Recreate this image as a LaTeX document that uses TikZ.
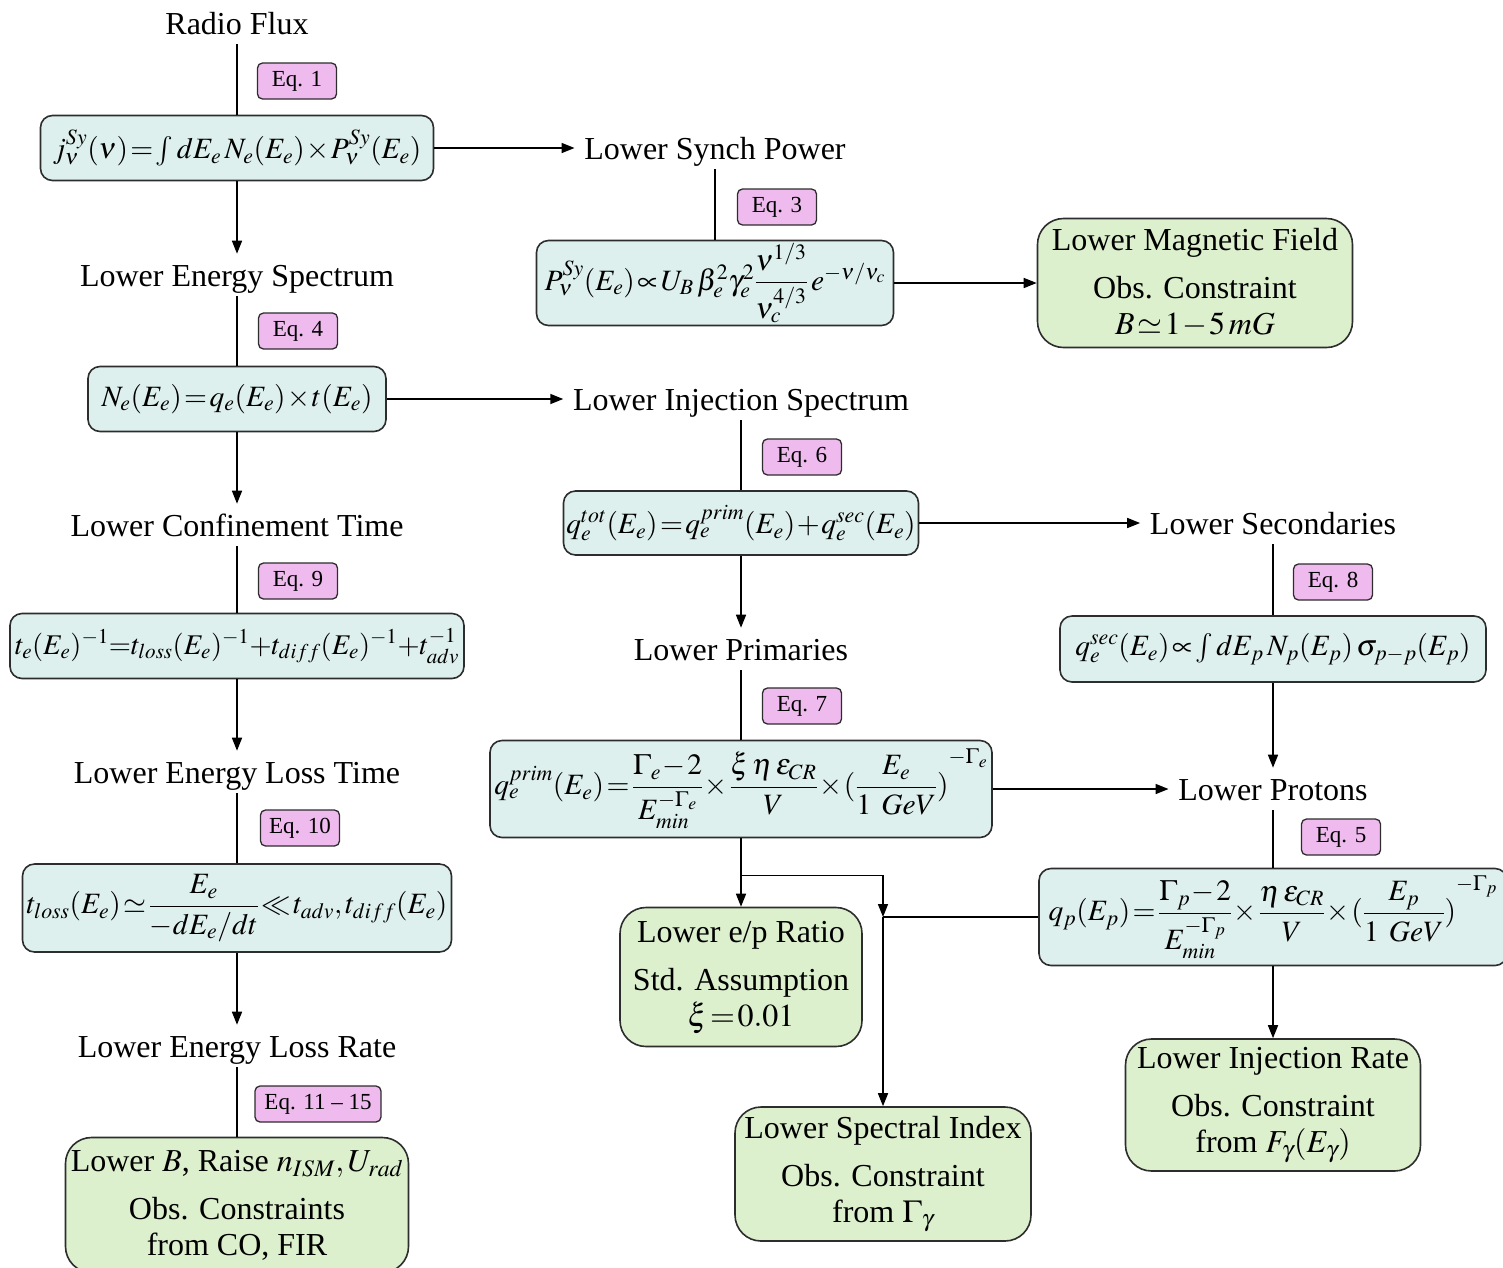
\documentclass[tikz,border=0pt]{standalone}
\usepackage{amsmath}
\usepackage{mathptmx}
\usepackage[no-math]{fontspec}
\setmainfont{Liberation Serif}
\usepackage{xcolor}
\usepackage{tikz}
\usetikzlibrary{arrows.meta, positioning}

\definecolor{eqcyan}{RGB}{221,240,237}
\definecolor{obsgreen}{RGB}{221,240,205}
\definecolor{tagpink}{RGB}{239,187,238}
\definecolor{rimgray}{RGB}{45,45,45}
\medmuskip=1mu plus 1mu
\thickmuskip=1.5mu plus 1mu

\begin{document}
\begin{tikzpicture}[x=1pt, y=-1pt, on grid, line width=1.6pt, >={Triangle[length=13pt,width=10pt]},
        font=\fontsize{32}{36}\selectfont,
        stage/.style={inner sep=9pt, text height=23pt, text depth=0pt},
        eqbox/.style={draw=rimgray, fill=eqcyan, rounded corners=12pt, inner sep=0pt, font=\fontsize{29.5}{34}\selectfont},
        obsbox/.style={draw=rimgray, fill=obsgreen, rounded corners=26pt, inner sep=0pt, align=center},
        eqtag/.style={draw=rimgray, fill=tagpink, rounded corners=5pt, inner sep=0pt, line width=1.3pt,
            minimum width=79pt, minimum height=36pt, font=\fontsize{23}{27}\selectfont}]
        \useasboundingbox (0,0) rectangle (1503,1267);

        \node[stage] (radio) at (237,23) {Radio Flux};
        \node[eqbox, minimum width=393pt, minimum height=65pt] (jsy) [below=125pt of radio]
            {$j_\nu^{Sy}(\nu)=\int dE_e\,N_e(E_e)\times P_\nu^{Sy}(E_e)$};
        \node[stage] (lspec) [below=127pt of jsy] {Lower Energy Spectrum};
        \node[eqbox, minimum width=298pt, minimum height=65pt] (ne) [below=124pt of lspec]
            {$N_e(E_e)=q_e(E_e)\times t(E_e)$};
        \node[stage] (lconf) [below=126pt of ne] {Lower Confinement Time};
        \node[eqbox, minimum width=454pt, minimum height=65pt, font=\fontsize{28.5}{34}\selectfont] (te) [below=121pt of lconf]
            {$t_e(E_e)^{-1}{=}t_{loss}(E_e)^{-1}{+}t_{diff}(E_e)^{-1}{+}t_{adv}^{-1}$};
        \node[stage] (lltime) [below=126pt of te] {Lower Energy Loss Time};
        \node[eqbox, minimum width=429pt, minimum height=88pt] (tloss) [below=136pt of lltime]
            {$t_{loss}(E_e)\simeq\dfrac{E_e}{-dE_e/dt}\ll t_{adv},t_{diff}(E_e)$};
        \node[stage] (llrate) [below=138pt of tloss] {Lower Energy Loss Rate};
        \node[obsbox, minimum width=343pt, minimum height=135pt] (lowerB) [below=159pt of llrate]
            {Lower $B$, Raise $n_{ISM},U_{rad}$\\[12pt] Obs. Constraints\\ from CO, FIR};

        \node[stage] (synch) [right=478pt of jsy] {Lower Synch Power};
        \node[eqbox, minimum width=357pt, minimum height=85pt] (psy) [below=135pt of synch]
            {$P_\nu^{Sy}(E_e)\propto U_B\,\beta_e^2\gamma_e^2\dfrac{\nu^{1/3}}{\nu_c^{4/3}}\,e^{-\nu/\nu_c}$};
        \node[obsbox, minimum width=315pt, minimum height=129pt] (bfield) [right=480pt of psy]
            {Lower Magnetic Field\\[12pt] Obs. Constraint\\ $B\simeq1-5\,mG$};

        \node[stage] (inj) [right=504pt of ne] {Lower Injection Spectrum};
        \node[eqbox, minimum width=355pt, minimum height=64pt] (qtot) [below=124pt of inj]
            {$q_e^{tot}(E_e)=q_e^{prim}(E_e)+q_e^{sec}(E_e)$};
        \node[stage] (lprim) [below=126pt of qtot] {Lower Primaries};
        \node[eqbox, minimum width=502pt, minimum height=97pt] (qprim) [below=140pt of lprim]
            {$q_e^{prim}(E_e)=\dfrac{\Gamma_e-2}{E_{min}^{-\Gamma_e}}\times\dfrac{\xi\,\eta\,\varepsilon_{CR}}{V}\times(\dfrac{E_e}{1\hspace{10pt}GeV}{\vphantom{\dfrac{E}{G}})}^{-\Gamma_e}$};
        \node[obsbox, minimum width=242pt, minimum height=139pt] (epr) [below=188pt of qprim]
            {Lower e/p Ratio\\[12pt] Std. Assumption\\ $\xi=0.01$};
        \node[obsbox, minimum width=296pt, minimum height=134pt] (specidx) [below right=385pt and 142pt of qprim]
            {Lower Spectral Index\\[12pt] Obs. Constraint\\ from $\Gamma_\gamma$};

        \node[stage] (lsec) [right=532pt of qtot] {Lower Secondaries};
        \node[eqbox, minimum width=426pt, minimum height=66pt] (qsec) [below=126pt of lsec]
            {$q_e^{sec}(E_e)\propto\int dE_p\,N_p(E_p)\,\sigma_{p-p}(E_p)$};
        \node[stage] (lprot) [right=532pt of qprim] {Lower Protons};
        \node[eqbox, minimum width=468pt, minimum height=97pt] (qp) [below=128pt of lprot]
            {$q_p(E_p)=\dfrac{\Gamma_p-2}{E_{min}^{-\Gamma_p}}\times\dfrac{\eta\,\varepsilon_{CR}}{V}\times(\dfrac{E_p}{1\hspace{10pt}GeV}{\vphantom{\dfrac{E}{G}})}^{-\Gamma_p}$};
        \node[obsbox, minimum width=295pt, minimum height=132pt] (injrate) [below=188pt of qp]
            {Lower Injection Rate\\[12pt] Obs. Constraint\\ from $F_\gamma(E_\gamma)$};

        \node[eqtag] (tag1) at (297,81) {Eq. 1};
        \node[eqtag] (tag3) at (777,207) {Eq. 3};
        \node[eqtag] (tag4) at (298,331) {Eq. 4};
        \node[eqtag] (tag6) at (802,457) {Eq. 6};
        \node[eqtag] (tag9) at (298,581) {Eq. 9};
        \node[eqtag] (tag8) at (1333,582) {Eq. 8};
        \node[eqtag] (tag7) at (802,706) {Eq. 7};
        \node[eqtag] (tag10) at (300,828) {Eq. 10};
        \node[eqtag] (tag5) at (1341,837) {Eq. 5};
        \node[eqtag, minimum width=126pt] (tag11) at (318,1104) {Eq. 11 -- 15};

        \coordinate[below=37pt of qprim.south] (split);
        \coordinate (merge) at (specidx |- qp);

        \draw (radio) -- (jsy);
        \draw[->] (jsy) -- (lspec);
        \draw (lspec) -- (ne);
        \draw[->] (ne) -- (lconf);
        \draw (lconf) -- (te);
        \draw[->] (te) -- (lltime);
        \draw (lltime) -- (tloss);
        \draw[->] (tloss) -- (llrate);
        \draw (llrate) -- (lowerB);

        \draw[->] (jsy) -- (synch);
        \draw (synch) -- (psy);
        \draw[->] (psy) -- (bfield);
        \draw[->] (ne) -- (inj);
        \draw (inj) -- (qtot);
        \draw[->] (qtot) -- (lsec);
        \draw[->] (qtot) -- (lprim);
        \draw (lprim) -- (qprim);
        \draw[->] (qprim) -- (lprot);
        \draw[->] (qprim) -- (epr);
        \draw[->] (split) -| (merge);
        \draw (qp) -- (merge);
        \draw[->] (merge) -- (specidx);

        \draw (lsec) -- (qsec);
        \draw[->] (qsec) -- (lprot);
        \draw (lprot) -- (qp);
        \draw[->] (qp) -- (injrate);
\end{tikzpicture}
\end{document}
